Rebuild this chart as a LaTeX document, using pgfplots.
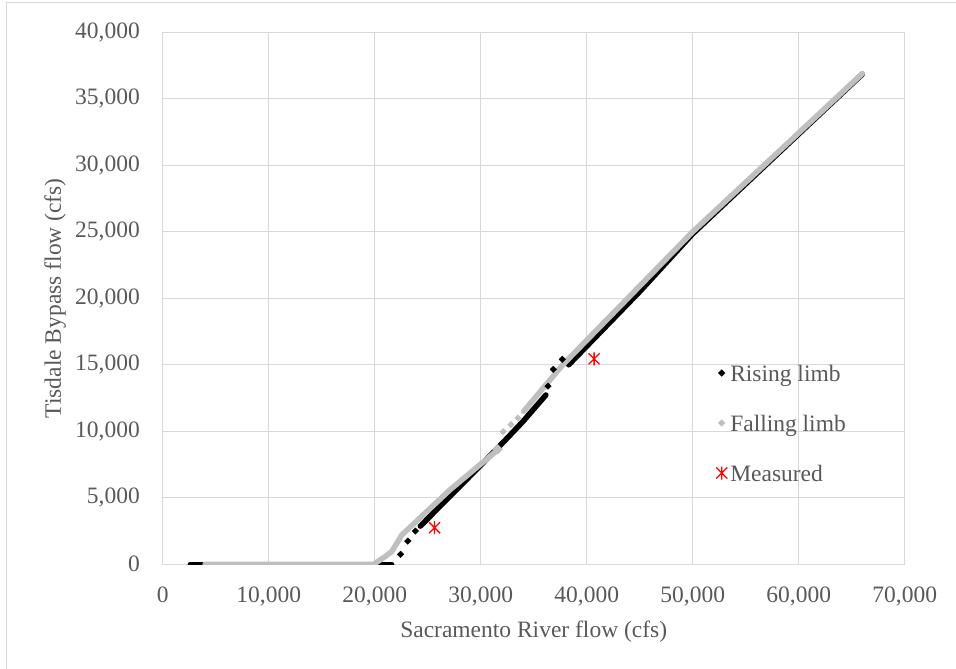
\documentclass[border=0pt]{standalone}
\usepackage{fontspec}
\setmainfont{Liberation Serif}
\usepackage{pgfplots}
\pgfplotsset{compat=1.18}
\definecolor{txt}{HTML}{595959}
\definecolor{gridc}{HTML}{D9D9D9}
\definecolor{fall}{HTML}{BFBFBF}
\pgfdeclareplotmark{xast}{%
  \pgfpathmoveto{\pgfqpoint{0pt}{\pgfplotmarksize}}\pgfpathlineto{\pgfqpoint{0pt}{-\pgfplotmarksize}}%
  \pgfpathmoveto{\pgfqpoint{.85\pgfplotmarksize}{.85\pgfplotmarksize}}\pgfpathlineto{\pgfqpoint{-.85\pgfplotmarksize}{-.85\pgfplotmarksize}}%
  \pgfpathmoveto{\pgfqpoint{-.85\pgfplotmarksize}{.85\pgfplotmarksize}}\pgfpathlineto{\pgfqpoint{.85\pgfplotmarksize}{-.85\pgfplotmarksize}}%
  \pgfusepathqstroke}
\begin{document}
\begin{tikzpicture}
\begin{axis}[
  at={(0,0)}, anchor=south west,
  scale only axis, width=742pt, height=532pt,
  xmin=0, xmax=70000, ymin=0, ymax=40000,
  xtick={0,10000,...,70000}, ytick={0,5000,...,40000},
  grid=major, major grid style={draw=gridc, line width=1pt},
  axis line style={draw=gridc, line width=1pt},
  major tick length=0pt,
  scaled ticks=false,
  /pgf/number format/fixed,
  /pgf/number format/1000 sep={,},
  /pgf/number format/assume math mode=true,
  tick label style={font=\fontsize{23.5}{28}\selectfont, text=txt},
  xticklabel style={anchor=north, inner sep=0pt, yshift=-22.7pt},
  yticklabel style={anchor=east, inner sep=0pt, xshift=-22.7pt},
  label style={font=\fontsize{23.5}{28}\selectfont, text=txt},
  xlabel={Sacramento River flow (cfs)},
  ylabel={Tisdale Bypass flow (cfs)},
  xlabel style={at={(axis description cs:0.5,-0.1385)}, anchor=base},
  ylabel style={at={(axis description cs:-0.1371,0.5)}, anchor=base},
  legend style={at={(rel axis cs:0.7457,0.2656)}, anchor=west, draw=none, fill=none,
    inner sep=0pt, font=\fontsize{23.5}{28}\selectfont, text=txt,
    row sep=34pt, column sep=3pt,
    nodes={inner sep=0pt, text height=16pt, text depth=0pt}},
  legend cell align=left,
  legend image code/.code={\draw[#1] plot coordinates {(0pt,0pt)};},
]
\coordinate (SW) at (rel axis cs:0,0);
% Rising limb (black)
\addplot[black, line width=5.5pt, line cap=round, line join=round, forget plot] coordinates {(2600,0) (21600,0)};
\addplot[black, line width=5.5pt, line cap=round, line join=round, forget plot] coordinates {
(24300,2870) (28000,5830) (32100,9150) (34000,10750) (36150,12730)};
\addplot[black, line width=5.5pt, line cap=round, line join=round, forget plot] coordinates {
(38300,15000) (45000,20500) (50000,24850) (66000,36850)};
\addplot[only marks, mark=square*, mark size=2.3pt, mark options={rotate=45, fill=black, draw=black, line width=0.4pt}] coordinates {
(22440,750) (23120,1750) (23840,2500) (36350,13400) (36850,14660) (37700,15410)};
\addlegendentry{Rising limb}
% Falling limb (gray)
\addplot[fall, line width=5.5pt, line cap=round, line join=round, forget plot] coordinates {
(4000,0) (19900,0) (20800,480) (21600,950) (22100,1600) (22550,2200) (27100,5600) (31600,8600)};
\addplot[fall, line width=5.5pt, line cap=round, line join=round, forget plot] coordinates {
(34050,11500) (37740,15000) (45000,20920) (50000,25000) (66000,36900)};
\addplot[fall, only marks, mark=square*, mark size=3.5pt, mark options={rotate=45, fill=fall, draw=fall}, forget plot] coordinates {(31600,8650)};
\addplot[only marks, mark=square*, mark size=2.3pt, mark options={rotate=45, fill=fall, draw=fall, line width=0.4pt}] coordinates {
(32120,9970) (32850,10500) (33500,11000)};
\addlegendentry{Falling limb}
% Measured
\addplot[only marks, mark=xast, mark size=6.5pt, mark options={draw=red, line width=1.3pt}] coordinates {
(25650,2750) (40700,15450)};
\addlegendentry{Measured}
\end{axis}
\draw[gridc, line width=1pt] ([shift={(-155.7pt,-104.7pt)}]SW) |- ([shift={(793.3pt,561.3pt)}]SW);
\pgfresetboundingbox
\path[use as bounding box] ([shift={(-162.7pt,-104.7pt)}]SW) rectangle ([shift={(793.3pt,564.3pt)}]SW);
\end{tikzpicture}
\end{document}
